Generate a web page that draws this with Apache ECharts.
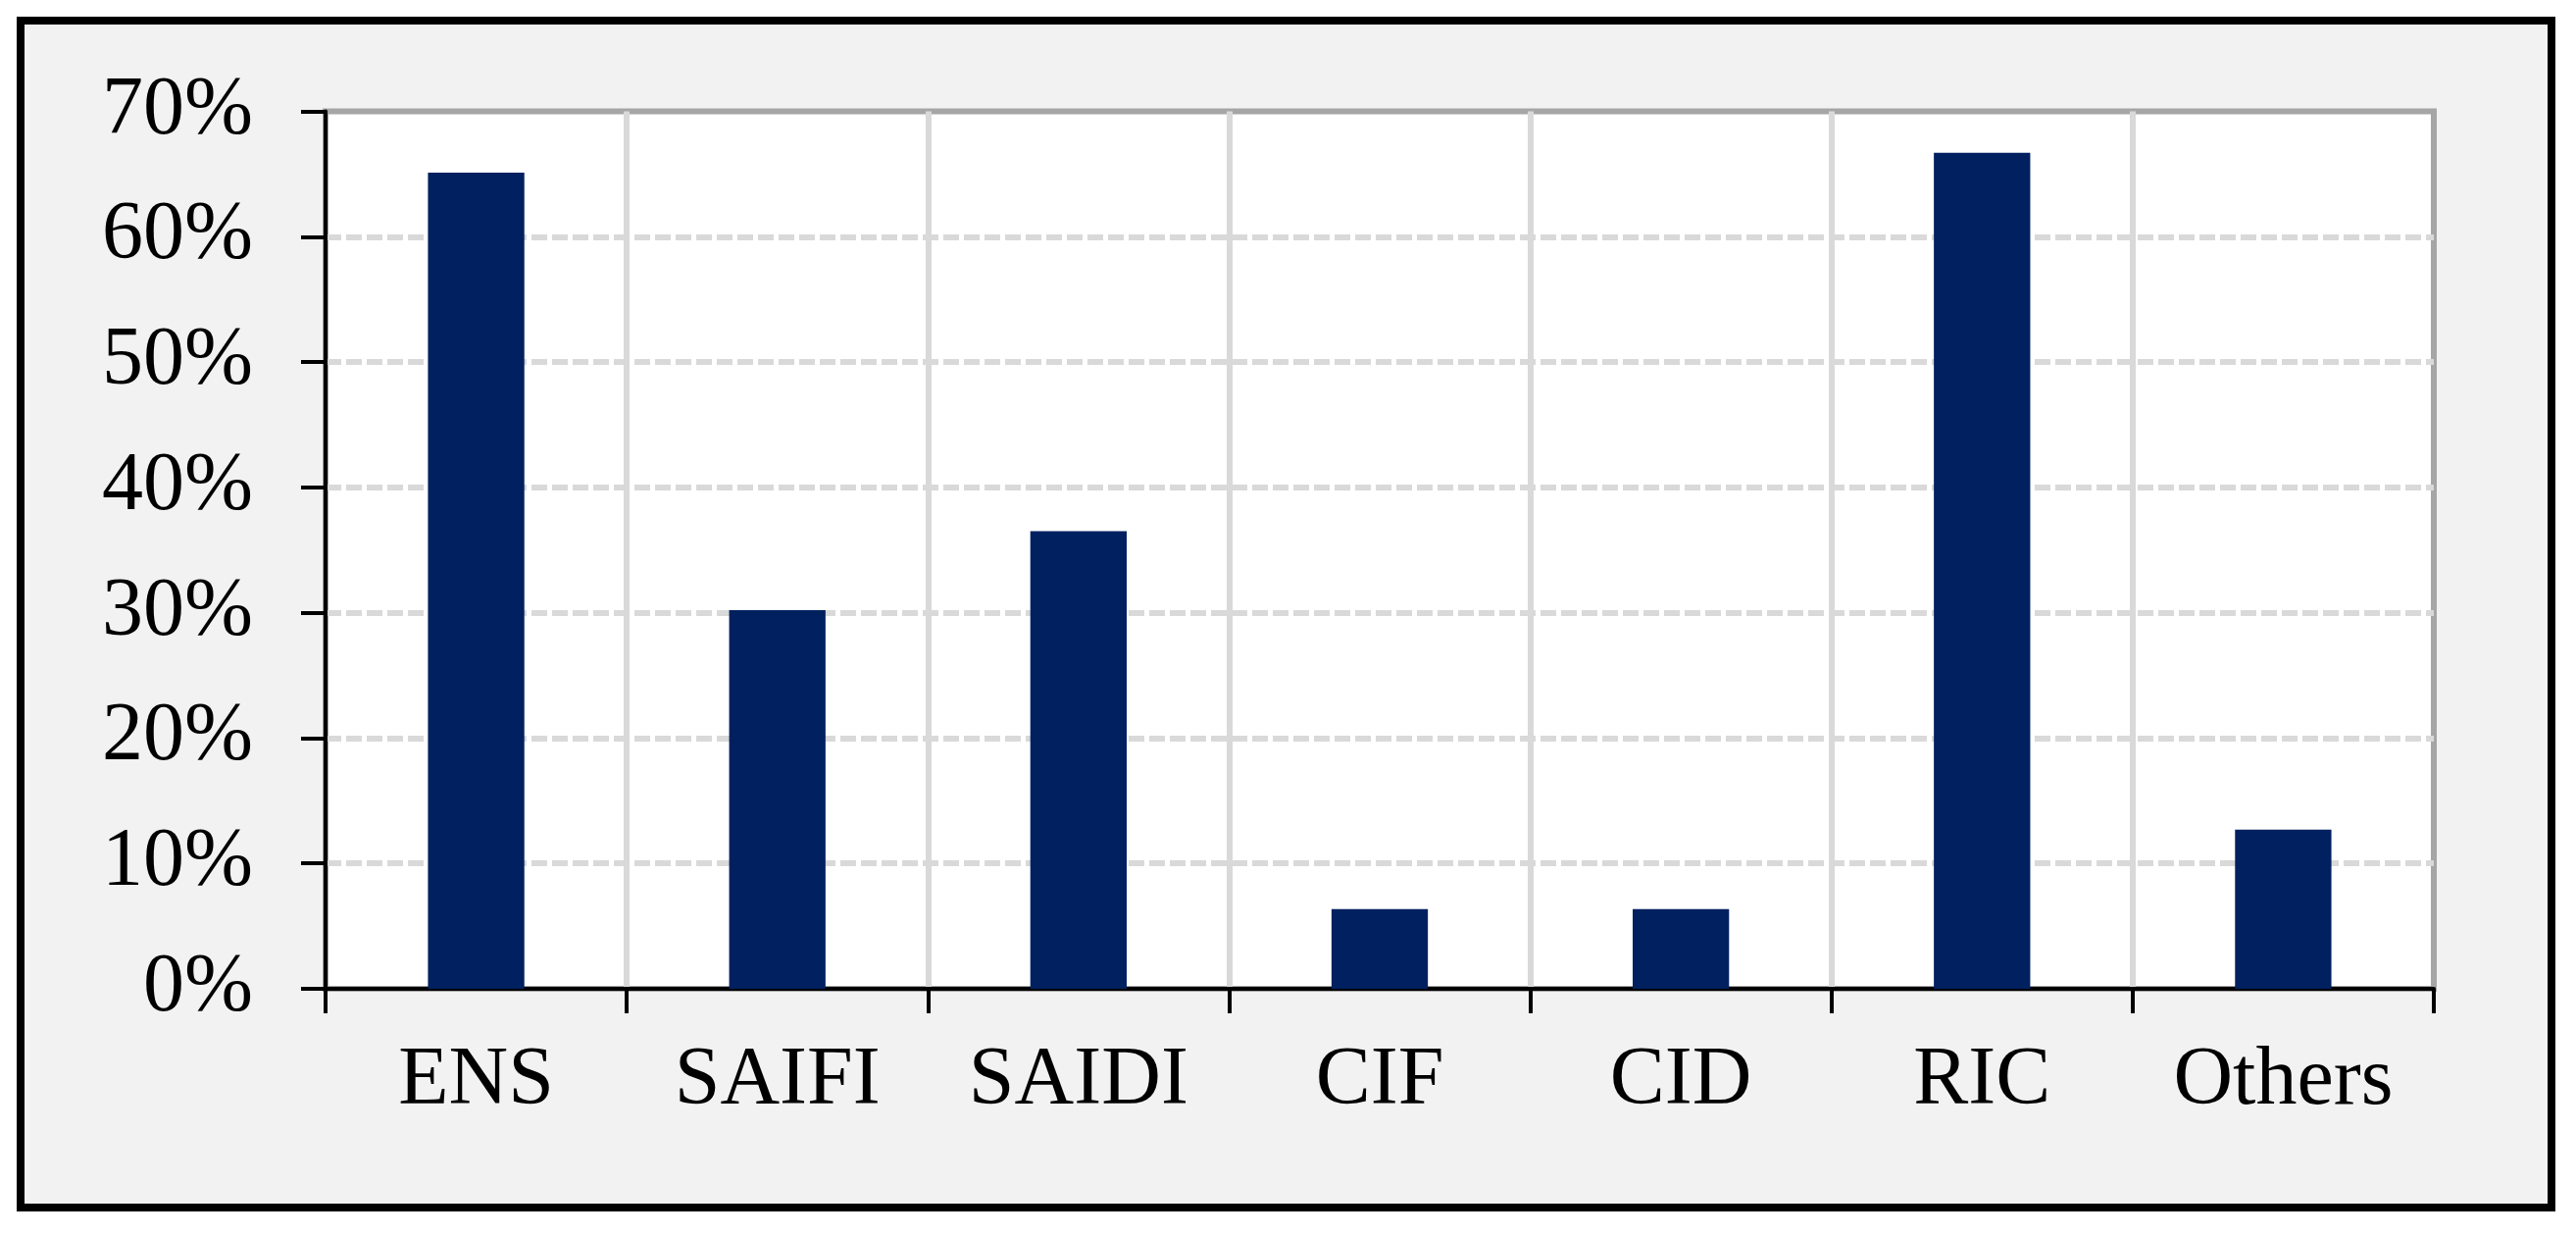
<!DOCTYPE html>
<html>
<head>
<meta charset="utf-8">
<script src="https://cdn.jsdelivr.net/npm/echarts@6/dist/echarts.min.js"></script>
<style>
html,body{margin:0;padding:0;background:#ffffff;}
#chart{width:2627px;height:1259px;}
</style>
</head>
<body>
<div id="chart"></div>
<script>
// Data
const categories = ['ENS', 'SAIFI', 'SAIDI', 'CIF', 'CID', 'RIC', 'Others'];
const shares = [65.1, 30.2, 36.5, 6.35, 6.35, 66.7, 12.7];
const yTicks = { min: 0, max: 70, interval: 10 };

const chart = echarts.init(document.getElementById('chart'), null, { renderer: 'canvas' });
const font = 'Liberation Serif, Times New Roman, serif';

chart.setOption({
  backgroundColor: '#ffffff',
  animation: false,
  graphic: [{
    type: 'rect',
    z: -10,
    silent: true,
    shape: { x: 21, y: 21, width: 2581, height: 1210 },
    style: { fill: '#f2f2f2', stroke: '#000000', lineWidth: 8 }
  }],
  grid: {
    left: 332, top: 113.5, right: 145, bottom: 251,
    show: true,
    backgroundColor: '#ffffff',
    borderColor: '#a6a6a6',
    borderWidth: 6,
    containLabel: false
  },
  xAxis: {
    type: 'category',
    data: categories,
    boundaryGap: true,
    axisLine: { show: true, lineStyle: { color: '#000000', width: 4 } },
    axisTick: { show: true, alignWithLabel: false, length: 25, lineStyle: { color: '#000000', width: 4 } },
    axisLabel: { fontFamily: font, fontSize: 84, color: '#000000', margin: 53, interval: 0 },
    splitLine: { show: true, showMinLine: false, showMaxLine: false, lineStyle: { color: '#d9d9d9', width: 6, type: 'solid' } }
  },
  yAxis: {
    type: 'value',
    min: yTicks.min, max: yTicks.max, interval: yTicks.interval,
    axisLine: { show: true, lineStyle: { color: '#000000', width: 4 } },
    axisTick: { show: true, length: 25, lineStyle: { color: '#000000', width: 4 } },
    axisLabel: { fontFamily: font, fontSize: 84, color: '#000000', margin: 74, formatter: '{value}%' },
    splitLine: { show: true, showMinLine: false, showMaxLine: false, lineStyle: { color: '#d9d9d9', width: 6, type: [16, 5] } }
  },
  series: [{
    type: 'bar',
    data: shares,
    barWidth: '32%',
    itemStyle: { color: '#002060' }
  }]
});
</script>
</body>
</html>
